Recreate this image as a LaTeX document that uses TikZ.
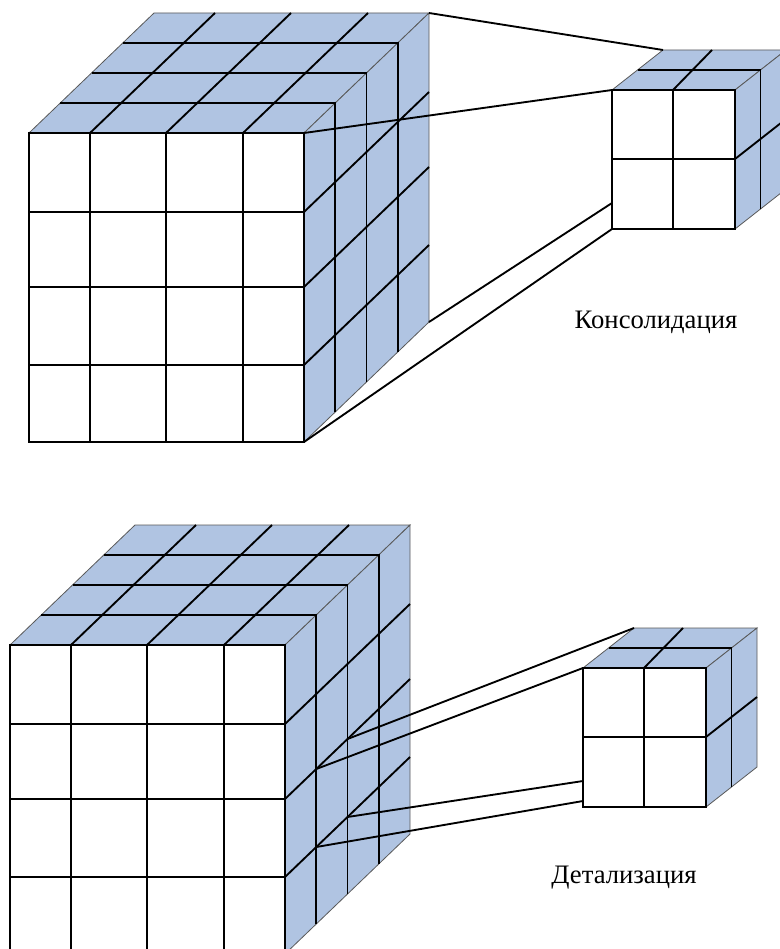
\documentclass[tikz,border=0pt]{standalone}
\usepackage{fontspec}
\setmainfont{Liberation Serif}
\definecolor{facefill}{RGB}{176,196,226}
\tikzset{
  grid line/.style={black, line width=1.4pt},
  outer edge/.style={draw=gray!70!black, line width=0.6pt, fill=facefill},
  link/.style={black, line width=1.4pt},
  caption/.style={font=\fontsize{20}{22}\selectfont, inner sep=0pt},
  pics/bigcube/.style={code={
    \fill[white] (0,0) rectangle (275,309);
    \draw[outer edge] (0,0) -- (125,-120) -- (400,-120) -- (275,0) -- cycle;
    \draw[outer edge] (275,0) -- (400,-120) -- (400,189) -- (275,309) -- cycle;
    \foreach \c in {61,137,214}
      \draw[grid line] (\c,0) -- (\c,309) (\c,0) -- ++(125,-120);
    \foreach \r in {79,154,232}
      \draw[grid line] (0,\r) -- (275,\r) (275,\r) -- ++(125,-120);
    \foreach \k in {1,2,3}
      \draw[grid line] (\k*31.25,-\k*30) -- ++(275,0) -- ++(0,309);
    \draw[grid line] (0,0) rectangle (275,309);
    \foreach \k in {1,2}
      \foreach \r [count=\i] in {154,232}
        \coordinate (-s\k-\i) at (275+\k*31.25,\r-\k*30);
    \coordinate (-ftr) at (275,0);
    \coordinate (-btr) at (400,-120);
    \coordinate (-fbr) at (275,309);
    \coordinate (-bbr) at (400,189);
  }},
  pics/smallcube/.style={code={
    \fill[white] (0,0) rectangle (123,139);
    \draw[outer edge] (0,0) -- (51,-40) -- (174,-40) -- (123,0) -- cycle;
    \draw[outer edge] (123,0) -- (174,-40) -- (174,99) -- (123,139) -- cycle;
    \draw[grid line] (61,0) -- (61,139) (0,69) -- (123,69);
    \draw[grid line] (61,0) -- ++(39,-40);
    \draw[grid line] (25.5,-20) -- ++(123,0) -- ++(0,139);
    \draw[grid line] (123,69) -- ++(51,-40);
    \draw[grid line] (0,0) rectangle (123,139);
    \coordinate (-ftl) at (0,0);
    \coordinate (-btl) at (51,-40);
    \coordinate (-fbl) at (0,139);
    \coordinate (-e1) at (0,113);
    \coordinate (-e2) at (0,133);
  }}
}
\begin{document}
\begin{tikzpicture}[x=0.75pt,y=-0.75pt]
\useasboundingbox (0,0) rectangle (780,949);
\clip (0,0) rectangle (780,949);

\pic (topbig) at (29,133) {bigcube};
\pic (topsmall) at (612,90) {smallcube};
\draw[link] (topbig-btr) -- (topsmall-btl);
\draw[link] (topbig-ftr) -- (topsmall-ftl);
\draw[link] (topbig-bbr) -- (topsmall-e1);
\draw[link] (topbig-fbr) -- (topsmall-fbl);
\node[caption] (cons) at (656,322) {Консолидация};

\pic (botbig) at (10,645) {bigcube};
\pic (botsmall) at (583,668) {smallcube};
\draw[link] (botbig-s2-1) -- (botsmall-btl);
\draw[link] (botbig-s1-1) -- (botsmall-ftl);
\draw[link] (botbig-s2-2) -- (botsmall-e1);
\draw[link] (botbig-s1-2) -- (botsmall-e2);
\node[caption] (det) at (624,878) {Детализация};
\end{tikzpicture}
\end{document}
